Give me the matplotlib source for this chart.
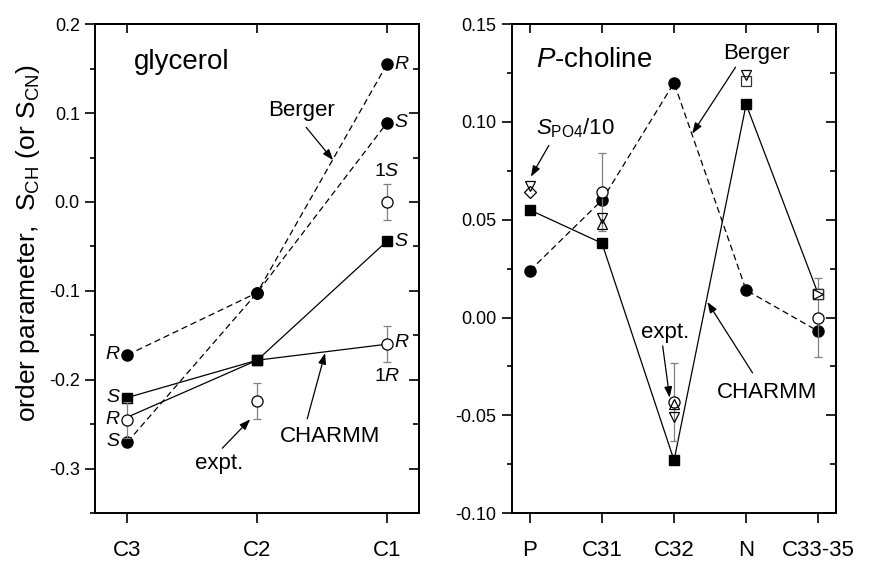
import matplotlib
matplotlib.use('Agg')
import matplotlib.pyplot as plt
from matplotlib.ticker import MultipleLocator, FormatStrFormatter

plt.rcParams['font.family'] = ['Liberation Sans', 'DejaVu Sans']
plt.rcParams['mathtext.fontset'] = 'custom'
plt.rcParams['mathtext.rm'] = 'Liberation Sans'
plt.rcParams['mathtext.it'] = 'Liberation Sans:italic'
plt.rcParams['axes.unicode_minus'] = False

# glycerol backbone
glyc_labels = ['C3', 'C2', 'C1']
glyc_x = [1, 2, 3]
berger_R = [-0.172, -0.102, 0.155]
berger_S = [-0.270, -0.102, 0.089]
charmm_S = [-0.220, -0.178, -0.044]
charmm_R = [-0.242, -0.178, -0.160]
glyc_expt_x = [1, 2, 3, 3]
glyc_expt = [-0.245, -0.224, 0.000, -0.160]
glyc_expt_err = [0.02, 0.02, 0.02, 0.02]

# P-choline headgroup
chol_labels = ['P', 'C31', 'C32', 'N', 'C33-35']
chol_x = [1, 2, 3, 4, 5]
berger_chol = [0.024, 0.060, 0.120, 0.014, -0.007]
charmm_chol = [0.055, 0.038, -0.073, 0.109, 0.012]
circ_x = [2, 3, 5]
circ_y = [0.064, -0.043, 0.000]
circ_err = [0.02, 0.02, 0.02]
tdown_x = [1, 2, 3, 4]
tdown_y = [0.067, 0.051, -0.051, 0.124]
tup_x = [2, 3]
tup_y = [0.048, -0.044]
diam_x = [1]
diam_y = [0.064]
osq_x = [4, 5]
osq_y = [0.121, 0.012]
tright_x = [5]
tright_y = [0.012]

DASH = (0, (5, 3))
ARROW = dict(arrowstyle='-|>,head_length=0.5,head_width=0.18', color='k', lw=0.9,
             mutation_scale=13, shrinkA=0, shrinkB=0)


def style_axes(ax, xs, xlabels, ymajor, yminor, fmt):
    ax.set_xticks(xs)
    ax.set_xticklabels(xlabels, fontsize=16)
    ax.yaxis.set_major_locator(MultipleLocator(ymajor))
    ax.yaxis.set_minor_locator(MultipleLocator(yminor))
    ax.yaxis.set_major_formatter(FormatStrFormatter(fmt))
    ax.tick_params(axis='y', which='major', direction='out', length=7, width=1.2, labelsize=13, pad=4)
    ax.tick_params(axis='y', which='minor', direction='out', length=3.5, width=1.2)
    ax.tick_params(axis='x', direction='out', length=7.5, width=1.2, pad=12)
    for sp in ax.spines.values():
        sp.set_linewidth(1.4)
    # mirrored ticks point inwards on top and right
    top = ax.secondary_xaxis('top')
    top.set_xticks(xs)
    top.tick_params(direction='in', length=6.5, width=1.2, labeltop=False)
    top.spines['top'].set_linewidth(1.4)
    right = ax.secondary_yaxis('right')
    right.yaxis.set_major_locator(MultipleLocator(ymajor))
    right.yaxis.set_minor_locator(MultipleLocator(yminor))
    right.tick_params(which='major', direction='in', length=7, width=1.2, labelright=False)
    right.tick_params(which='minor', direction='in', length=4.5, width=1.2)
    right.spines['right'].set_linewidth(1.4)


def tag(ax, x, y, text, dx, dy, ha, size=14):
    ax.annotate(text, xy=(x, y), xytext=(dx, dy), textcoords='offset points',
                ha=ha, va='center', fontsize=size, zorder=5)


fig = plt.figure(figsize=(8.72, 5.62), dpi=100)
ax1 = fig.add_axes([0.109, 0.087, 0.372, 0.870])
ax2 = fig.add_axes([0.587, 0.087, 0.372, 0.870])

# ---- left: glycerol ----
ax1.plot(glyc_x, berger_R, color='k', lw=0.9, ls=DASH, marker='o', ms=8, mfc='k', mec='k', zorder=2)
ax1.plot(glyc_x, berger_S, color='k', lw=0.9, ls=DASH, marker='o', ms=8, mfc='k', mec='k', zorder=2)
ax1.plot(glyc_x, charmm_S, color='k', lw=0.9, marker='s', ms=7.3, zorder=2)
ax1.plot(glyc_x, charmm_R, color='k', lw=0.9, marker='s', ms=7.3, markevery=[1], zorder=2)
ax1.errorbar(glyc_expt_x, glyc_expt, yerr=glyc_expt_err, fmt='none', ecolor='gray',
             elinewidth=0.9, capsize=3, capthick=0.9, zorder=2.5)
ax1.plot(glyc_expt_x, glyc_expt, ls='none', marker='o', ms=8, mfc='white', mec='k', mew=0.9, zorder=3)

ax1.set_xlim(0.75, 3.25)
ax1.set_ylim(-0.35, 0.2)
style_axes(ax1, glyc_x, glyc_labels, 0.1, 0.05, '%.1f')
ax1.set_ylabel(r'order parameter,  $\mathrm{S}_{\mathrm{CH}}$ (or $\mathrm{S}_{\mathrm{CN}}$)', fontsize=19)
ax1.yaxis.set_label_coords(-0.165, 0.553)

ax1.text(1.046, 0.157, 'glycerol', fontsize=20, va='center')
tag(ax1, 1, berger_R[0], '$R$', -5, 0, 'right')
tag(ax1, 1, charmm_S[0], '$S$', -5, 0, 'right')
tag(ax1, 1, glyc_expt[0], '$R$', -5, 0, 'right')
tag(ax1, 1, berger_S[0], '$S$', -5, 0, 'right')
tag(ax1, 3, berger_R[2], '$R$', 5, 0, 'left')
tag(ax1, 3, berger_S[2], '$S$', 5, 0, 'left')
tag(ax1, 3, charmm_S[2], '$S$', 5, 0, 'left')
tag(ax1, 3, glyc_expt[3], '$R$', 5, 1, 'left')
tag(ax1, 3, glyc_expt[2], '1$S$', 0, 22, 'center')
tag(ax1, 3, glyc_expt[3], '1$R$', 0, -23, 'center')

ax1.text(2.085, 0.103, 'Berger', fontsize=16, va='center')
ax1.annotate('', xy=(2.585, 0.047), xytext=(2.377, 0.084), arrowprops=ARROW)
ax1.text(2.177, -0.2636, 'CHARMM', fontsize=16, va='center')
ax1.annotate('', xy=(2.523, -0.170), xytext=(2.385, -0.244), arrowprops=ARROW)
ax1.text(1.523, -0.2937, 'expt.', fontsize=16, va='center')
ax1.annotate('', xy=(1.946, -0.2444), xytext=(1.731, -0.277), arrowprops=ARROW)

# ---- right: P-choline ----
ax2.plot(chol_x, berger_chol, color='k', lw=0.9, ls=DASH, marker='o', ms=8, mfc='k', mec='k', zorder=2)
ax2.plot(chol_x, charmm_chol, color='k', lw=0.9, marker='s', ms=7.3, zorder=2)
ax2.errorbar(circ_x, circ_y, yerr=circ_err, fmt='none', ecolor='gray',
             elinewidth=0.9, capsize=3, capthick=0.9, zorder=2.5)
ax2.plot(circ_x, circ_y, ls='none', marker='o', ms=8, mfc='white', mec='k', mew=0.9, zorder=3)
ax2.plot(diam_x, diam_y, ls='none', marker='D', ms=6.3, mfc='white', mec='k', mew=0.9, zorder=3.2)
ax2.plot(tdown_x, tdown_y, ls='none', marker='v', ms=7, mfc='none', mec='k', mew=0.9, zorder=3.4)
ax2.plot(tup_x, tup_y, ls='none', marker='^', ms=7, mfc='none', mec='k', mew=0.9, zorder=3.4)
ax2.plot(osq_x, osq_y, ls='none', marker='s', ms=7.3, mfc='white', mec='#333333', mew=0.9, zorder=3.3)
ax2.plot(tright_x, tright_y, ls='none', marker='>', ms=7, mfc='white', mec='k', mew=0.9, zorder=3.5)

ax2.set_xlim(0.75, 5.25)
ax2.set_ylim(-0.10, 0.15)
style_axes(ax2, chol_x, chol_labels, 0.05, 0.025, '%.2f')

ax2.text(1.08, 0.1315, '$P$-choline', fontsize=20, va='center')
ax2.text(1.083, 0.0967, r'$S_{\mathrm{PO4}}$/10', fontsize=16, va='center')
ax2.annotate('', xy=(1.014, 0.072), xytext=(1.263, 0.088), arrowprops=ARROW)
ax2.text(3.683, 0.135, 'Berger', fontsize=16, va='center')
ax2.annotate('', xy=(3.252, 0.094), xytext=(3.853, 0.128), arrowprops=ARROW)
ax2.text(2.537, -0.0077, 'expt.', fontsize=16, va='center')
ax2.annotate('', xy=(2.939, -0.041), xytext=(2.842, -0.0145), arrowprops=ARROW)
ax2.text(3.6, -0.0384, 'CHARMM', fontsize=16, va='center')
ax2.annotate('', xy=(3.462, 0.008), xytext=(4.089, -0.0283), arrowprops=ARROW)

fig.savefig('out.png', dpi=100)
